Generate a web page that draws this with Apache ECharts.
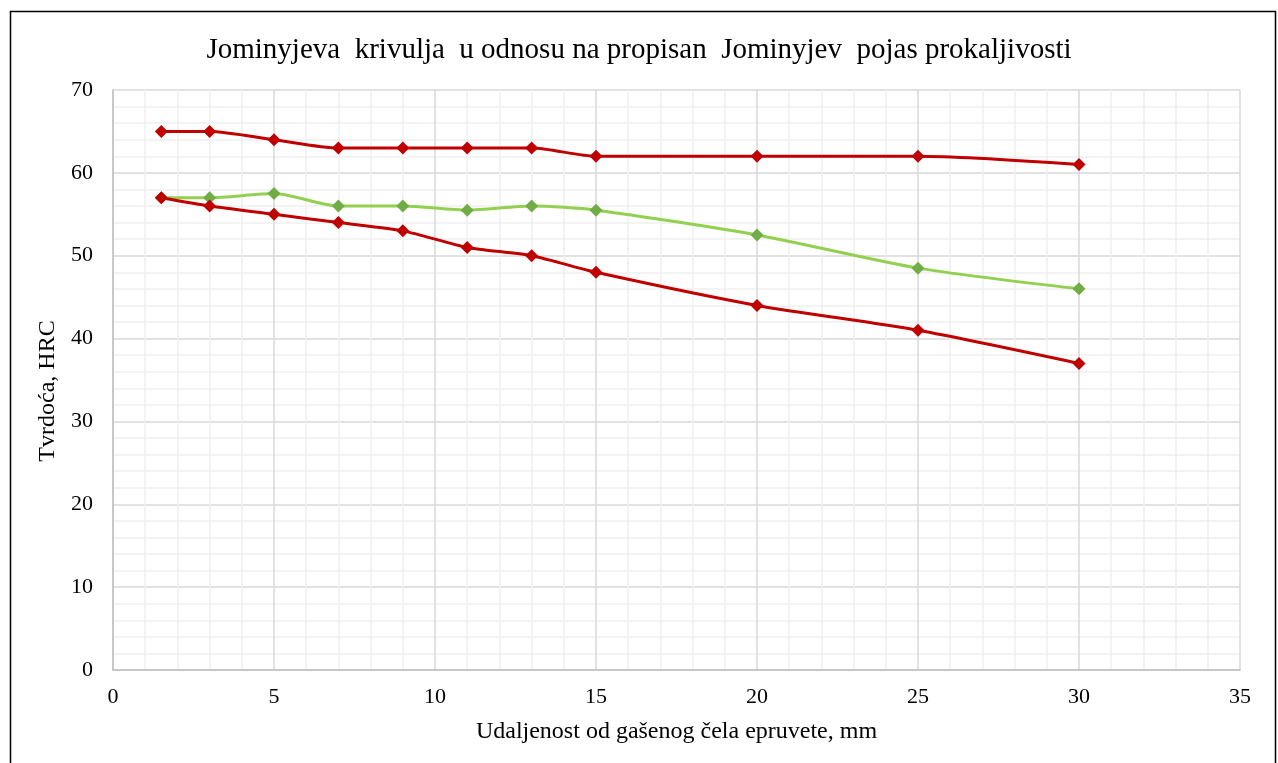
<!DOCTYPE html>
<html>
<head>
<meta charset="utf-8">
<script src="https://cdn.jsdelivr.net/npm/echarts@6/dist/echarts.min.js"></script>
<style>html,body{margin:0;padding:0;background:#fff}#c{width:1278px;height:763px}</style>
</head>
<body>
<div id="c"></div>
<script>
const distances = [1.5, 3, 5, 7, 9, 11, 13, 15, 20, 25, 30];
const upperBand = [65, 65, 64, 63, 63, 63, 63, 62, 62, 62, 61];
const measured = [57, 57, 57.5, 56, 56, 55.5, 56, 55.5, 52.5, 48.5, 46];
const lowerBand = [57, 56, 55, 54, 53, 51, 50, 48, 44, 41, 37];
const titleText = 'Jominyjeva  krivulja  u odnosu na propisan  Jominyjev  pojas prokaljivosti';
const xName = 'Udaljenost od gašenog čela epruvete, mm';
const yName = 'Tvrdoća, HRC';

const pts = arr => distances.map((d, i) => [d, arr[i]]);
const font = '"Liberation Serif", "Times New Roman", serif';
const chart = echarts.init(document.getElementById('c'));
function mk(name, arr, lineColor, markColor) {
  return {
    name, type: 'line', data: pts(arr), smooth: 0.25,
    symbol: 'diamond', symbolSize: 13,
    lineStyle: { color: lineColor, width: 3 },
    itemStyle: { color: markColor },
    z: 3
  };
}
chart.setOption({
  animation: false,
  backgroundColor: '#fff',
  graphic: [{
    type: 'rect', shape: { x: 10.5, y: 11.5, width: 1265, height: 770 },
    style: { fill: 'none', stroke: '#000', lineWidth: 1.5 }, silent: true
  }, {
    type: 'text', x: 48, y: 391, rotation: Math.PI / 2,
    style: { text: yName, font: '24px ' + font, fill: '#000', align: 'center', verticalAlign: 'middle' },
    silent: true
  }],
  title: {
    text: titleText, left: 'center', top: 31,
    textStyle: { fontFamily: font, fontSize: 29, fontWeight: 'normal', color: '#000' }
  },
  grid: { left: 113, right: 38, top: 90, bottom: 93, containLabel: false },
  xAxis: {
    type: 'value', min: 0, max: 35, interval: 5,
    name: xName, nameLocation: 'middle', nameGap: 50,
    nameTextStyle: { fontFamily: font, fontSize: 24, color: '#000' },
    axisLine: { show: true, lineStyle: { color: '#bfbfbf', width: 1.5 } },
    axisTick: { show: false },
    axisLabel: { fontFamily: font, fontSize: 22, color: '#000', margin: 16 },
    splitLine: { show: true, lineStyle: { color: '#d9d9d9', width: 1.5 } },
    minorTick: { show: false, splitNumber: 5 },
    minorSplitLine: { show: true, lineStyle: { color: '#f0f0f0', width: 1.5 } }
  },
  yAxis: {
    type: 'value', min: 0, max: 70, interval: 10,
    axisLine: { show: true, lineStyle: { color: '#bfbfbf', width: 1.5 } },
    axisTick: { show: false },
    axisLabel: { fontFamily: font, fontSize: 22, color: '#000', margin: 20 },
    splitLine: { show: true, lineStyle: { color: '#d9d9d9', width: 1.5 } },
    minorTick: { show: false, splitNumber: 5 },
    minorSplitLine: { show: true, lineStyle: { color: '#f0f0f0', width: 1.5 } }
  },
  series: [
    mk('Gornja granica', upperBand, '#C00000', '#C00000'),
    mk('Izmjereno', measured, '#92D050', '#70AD47'),
    mk('Donja granica', lowerBand, '#C00000', '#C00000')
  ]
});
</script>
</body>
</html>
